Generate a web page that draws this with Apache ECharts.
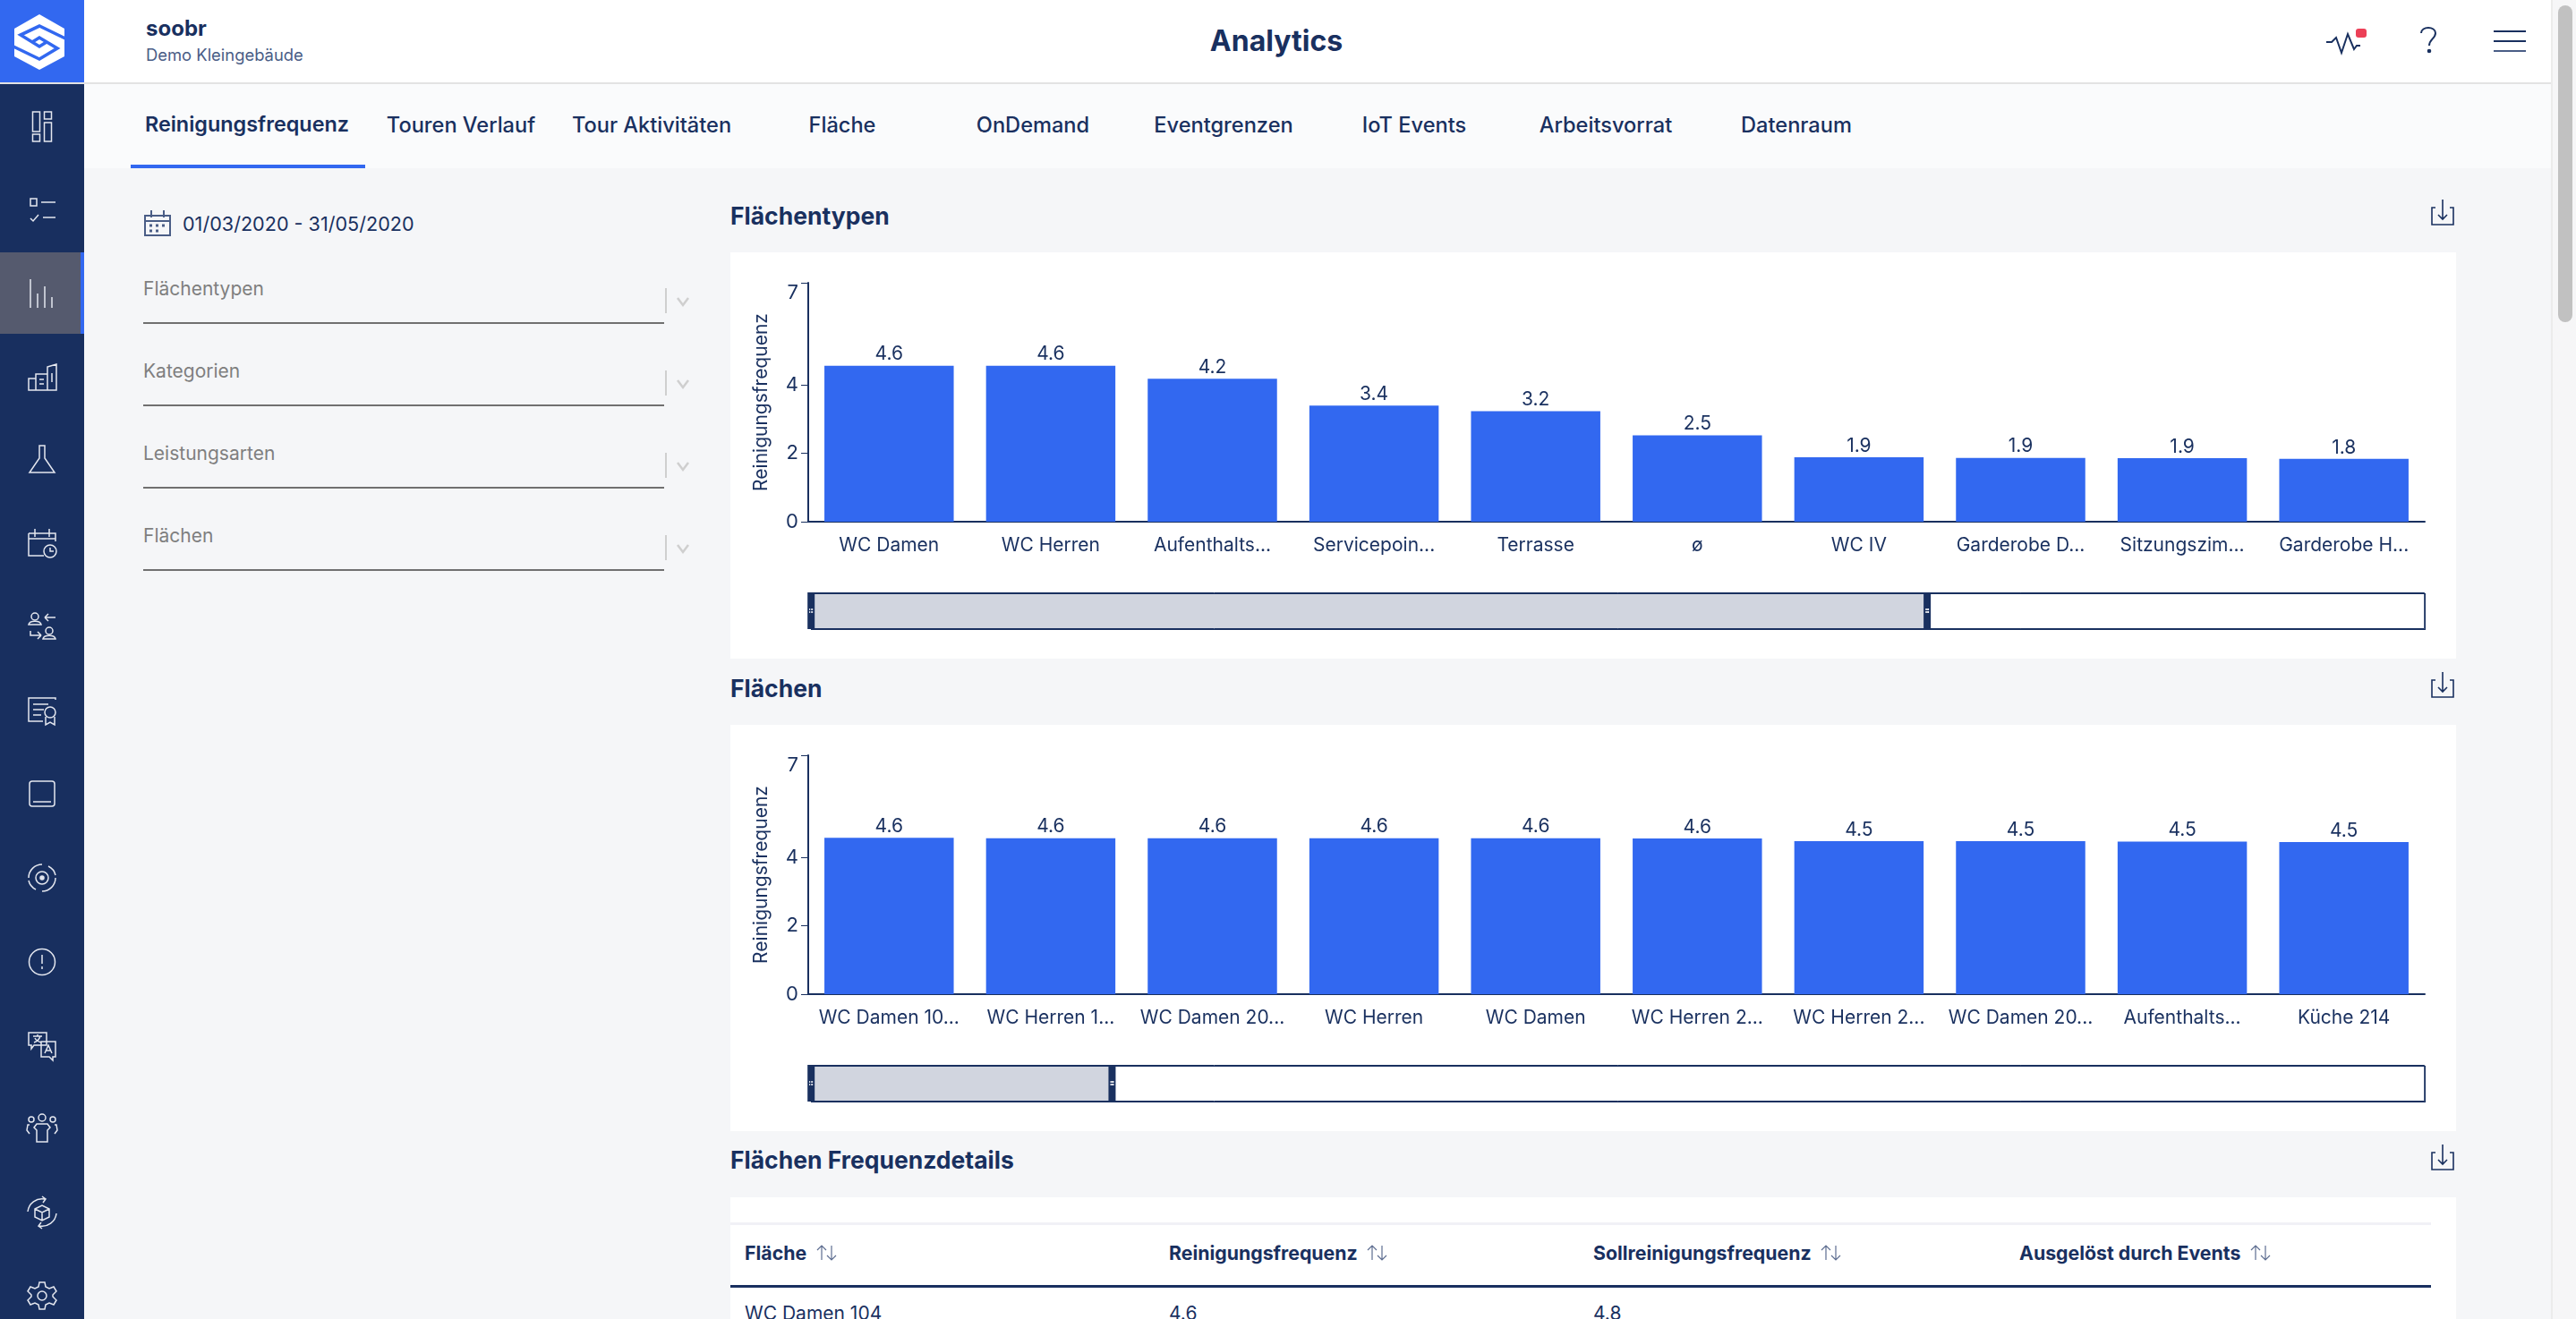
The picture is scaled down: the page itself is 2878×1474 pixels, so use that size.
<!DOCTYPE html>
<html>
<head>
<meta charset="utf-8">
<title>Analytics</title>
<script src="https://cdn.jsdelivr.net/npm/echarts@6/dist/echarts.min.js"></script>
<style>
html, body { margin: 0; padding: 0; width: 2878px; height: 1474px; overflow: hidden; background: #f5f6f8; }
body { font-family: Inter, "Noto Sans", sans-serif; color: #19305f; position: relative; }
.abs, .t { position: absolute; }
.t { white-space: nowrap; line-height: 30px; margin-top: -15px; }
.b { font-weight: 700; }
.tab { font-size: 23.6px; font-weight: 500; transform: translateX(-50%); }
.filter { font-size: 21px; color: #7f7f7f; left: 160px; }
.line { position: absolute; left: 160px; width: 582px; height: 2px; background: #707070; }
.sep { position: absolute; left: 743px; width: 2px; height: 28px; background: #cfcfcf; }
.card { position: absolute; background: #fff; left: 816px; width: 1928px; }
.chart { position: absolute; left: 816px; width: 1928px; height: 454px; }
.title { font-size: 26.5px; font-weight: 700; left: 816px; }
.th { font-size: 21.3px; font-weight: 700; top: 1400px; }
.td { font-size: 21px; top: 1468px; }
.frame { position: absolute; background: #19305f; }
svg { position: absolute; overflow: visible; fill: none; stroke-linecap: butt; }
.nav { left: 25px; width: 44px; height: 44px; stroke: #e4e7ef; stroke-width: 1.5; }
</style>
</head>
<body>

<!-- top bar -->
<div class="abs" style="left:0;top:0;width:2850px;height:92px;background:#fff"></div>
<div class="abs" style="left:94px;top:92px;width:2756px;height:2px;background:#e3e3e3"></div>
<div class="abs" style="left:94px;top:94px;width:2756px;height:94px;background:#fafbfc"></div>

<!-- side bar -->
<div class="abs" style="left:0;top:0;width:94px;height:92px;background:#3268f0"></div>
<div class="abs" style="left:0;top:92px;width:94px;height:2px;background:#e3e3e3"></div>
<div class="abs" style="left:0;top:94px;width:94px;height:1380px;background:#182f5f"></div>
<div class="abs" style="left:0;top:282px;width:90px;height:91px;background:#555a6e"></div>
<div class="abs" style="left:90px;top:282px;width:4px;height:91px;background:#3268f0"></div>

<svg style="left:0;top:0" width="94" height="94" viewBox="0 0 94 94">
  <path d="M44 16 L72 32 V63 L44 78 L16 63 V32 Z" fill="#fff"/>
  <path d="M73 43 L44 29 L23 39 L44 52 L52 47 M15 52 L44 66 L64 54 L44 42 L36 47" stroke="#3268f0" stroke-width="3.6"/>
</svg>

<svg class="nav" style="top:119px" viewBox="0 0 44 44"><path d="M13 8h8v22h-8zM26 8h8v8h-8zM13 33h8v8h-8zM26 20h8v21h-8z" transform="translate(-1.500,-2)"/></svg>
<svg class="nav" style="top:213px" viewBox="0 0 44 44"><path d="M9 9h7v8h-7zM21 13h16M9 31l3 3 6-7M23 30h14"/></svg>
<svg class="nav" style="top:306px" viewBox="0 0 44 44"><path d="M9 6v32M17 22v16M25 14v24M33 26v12"/></svg>
<svg class="nav" style="top:399px" viewBox="0 0 44 44"><path d="M7 24h8v13h-8zM15 19h13v18h-13zM28 11l10-3v29h-10zM19 25h5M19 30h5M33 18v10"/></svg>
<svg class="nav" style="top:491px" viewBox="0 0 44 44"><path d="M19 7h6v14l11 16h-28l11-16z"/></svg>
<svg class="nav" style="top:585px" viewBox="0 0 44 44"><path d="M7 11h30v9M7 11v25h17M14 6v9M30 6v9M7 17h30"/><circle cx="31" cy="31" r="7"/><path d="M31 27v4h4"/></svg>
<svg class="nav" style="top:678px" viewBox="0 0 44 44"><circle cx="14" cy="11" r="4"/><path d="M7 20c1-5 13-5 14 0zM25 12h12M25 12l4-4M25 12l4 4M9 27v5h12M21 32l-4-4M21 32l-4 4"/><circle cx="30" cy="27" r="4"/><path d="M23 36c1-5 13-5 14 0z"/></svg>
<svg class="nav" style="top:772px" viewBox="0 0 44 44"><path d="M37 10v-2h-30v26h16M12 15h17M12 21h12M12 27h9"/><circle cx="31" cy="24" r="6"/><path d="M26 29v9l5-3 5 3v-9"/></svg>
<svg class="nav" style="top:865px" viewBox="0 0 44 44"><rect x="8" y="8" width="28" height="28" rx="3"/><path d="M12 31h20"/></svg>
<svg class="nav" style="top:959px" viewBox="0 0 44 44"><circle cx="22" cy="22" r="7"/><circle cx="22" cy="22" r="2" fill="#e4e7ef"/><path d="M7 22a15 15 0 0 1 15-15M37 22a15 15 0 0 1-15 15M7 25a15 15 0 0 0 8 10M37 19a15 15 0 0 0-8-10"/></svg>
<svg class="nav" style="top:1053px" viewBox="0 0 44 44"><circle cx="22" cy="22" r="14.5"/><path d="M22 14v10M22 27v3"/></svg>
<svg class="nav" style="top:1146px" viewBox="0 0 44 44"><path d="M7 8h20v14h-14l-3 4v-4h-3zM21 18h16v17h-3v4l-4-4h-9z"/><path d="M12 12h10M17 10v2M13 19c3-1 6-4 7-7M14 14c1 2 4 4 7 5M25 31l4-9 4 9M26 28h6"/></svg>
<svg class="nav" style="top:1240px" viewBox="0 0 44 44"><circle cx="22" cy="9" r="4"/><circle cx="10" cy="11" r="3"/><circle cx="34" cy="11" r="3"/><path d="M16 16h12l3 4-3 3v13h-12v-13l-3-3zM8 17h-2l-1 6 3 4M36 17h2l1 6-3 4"/></svg>
<svg class="nav" style="top:1333px" viewBox="0 0 44 44"><path d="M14 18l8-4 8 4v9l-8 4-8-4zM14 18l8 4 8-4M22 22v9M6 21a16 16 0 0 1 19-14M38 23a16 16 0 0 1-19 14M22 4l4 3-3 4M22 40l-4-3 3-4"/></svg>
<svg class="nav" style="top:1426px" viewBox="0 0 44 44"><circle cx="22" cy="22" r="5"/><path d="M19 7h6l1 5 4 2 5-2 3 5-4 4v2l4 4-3 5-5-2-4 2-1 5h-6l-1-5-4-2-5 2-3-5 4-4v-2l-4-4 3-5 5 2 4-2z"/></svg>

<!-- header text -->
<div class="t b" style="left:163px;top:32px;font-size:24px">soobr</div>
<div class="t" style="left:163px;top:61px;font-size:18.4px;color:#4a5d86">Demo Kleingebäude</div>
<div class="t b" style="left:1426px;top:46px;font-size:32px;transform:translateX(-50%)">Analytics</div>

<svg style="left:2598px;top:30px" width="40" height="34" stroke="#19305f" stroke-width="2"><path d="M1 17h6l5-5 6 17 7-21 7 17 3-4h4"/></svg>
<div class="abs" style="left:2632px;top:32px;width:12px;height:10px;border-radius:3px;background:#ec4057"></div>
<svg style="left:2704px;top:30px" width="20" height="32" stroke="#19305f" stroke-width="2"><path d="M1 7c0-8 16-8 16 0 0 6-7 7-7 14"/><circle cx="10" cy="27" r="1.3" fill="#19305f"/></svg>
<svg style="left:2786px;top:33px" width="36" height="26" stroke="#19305f" stroke-width="2"><path d="M0 2h36M0 13h36"/><path d="M0 24h36" stroke="#4a5d86"/></svg>

<!-- scroll bar -->
<div class="abs" style="left:2850px;top:0;width:28px;height:1474px;background:#f6f6f7;border-left:2px solid #ebebeb;box-sizing:border-box"></div>
<div class="abs" style="left:2858px;top:6px;width:16px;height:354px;border-radius:8px;background:#c1c1c1"></div>

<!-- tabs -->
<div class="abs" style="left:146px;top:184px;width:262px;height:4px;background:#3268f0"></div>
<div class="t tab" style="left:276px;top:139px;font-weight:600;font-size:23.4px">Reinigungsfrequenz</div>
<div class="t tab" style="left:515px;top:140px">Touren Verlauf</div>
<div class="t tab" style="left:728px;top:140px">Tour Aktivitäten</div>
<div class="t tab" style="left:941px;top:140px">Fläche</div>
<div class="t tab" style="left:1154px;top:140px">OnDemand</div>
<div class="t tab" style="left:1367px;top:140px">Eventgrenzen</div>
<div class="t tab" style="left:1580px;top:140px">IoT Events</div>
<div class="t tab" style="left:1794px;top:140px">Arbeitsvorrat</div>
<div class="t tab" style="left:2007px;top:140px">Datenraum</div>

<!-- filters -->
<svg style="left:161px;top:235px" width="30" height="29" stroke="#4a5d86" stroke-width="2"><path d="M1 6h28v22h-28zM1 12h28M8 0v8M22 0v8"/><path d="M6 17h3M13 17h3M20 17h3M6 23h3M13 23h3" stroke-width="3"/></svg>
<div class="t" style="left:204px;top:250px;font-size:21.6px">01/03/2020 - 31/05/2020</div>

<div class="t filter" style="top:323px">Flächentypen</div><div class="line" style="top:360px"></div><div class="sep" style="top:322px"></div>
<div class="t filter" style="top:415px">Kategorien</div><div class="line" style="top:452px"></div><div class="sep" style="top:414px"></div>
<div class="t filter" style="top:507px">Leistungsarten</div><div class="line" style="top:544px"></div><div class="sep" style="top:506px"></div>
<div class="t filter" style="top:599px">Flächen</div><div class="line" style="top:636px"></div><div class="sep" style="top:598px"></div>
<svg style="left:756px;top:332px" width="14" height="10" stroke="#cfcfcf" stroke-width="2.5"><path d="M1 1l6 8 6-8"/></svg>
<svg style="left:756px;top:424px" width="14" height="10" stroke="#cfcfcf" stroke-width="2.5"><path d="M1 1l6 8 6-8"/></svg>
<svg style="left:756px;top:516px" width="14" height="10" stroke="#cfcfcf" stroke-width="2.5"><path d="M1 1l6 8 6-8"/></svg>
<svg style="left:756px;top:608px" width="14" height="10" stroke="#cfcfcf" stroke-width="2.5"><path d="M1 1l6 8 6-8"/></svg>

<!-- sections -->
<div class="t title" style="top:241px">Flächentypen</div>
<div class="t title" style="top:769px">Flächen</div>
<div class="t title" style="top:1296px">Flächen Frequenzdetails</div>

<svg style="left:2716px;top:223px" width="26" height="30" stroke="#19305f" stroke-width="1.6"><path d="M5 9h-4v19h24v-19h-4M13 0v22M8 17l5 5 5-5"/></svg>
<svg style="left:2716px;top:751px" width="26" height="30" stroke="#19305f" stroke-width="1.6"><path d="M5 9h-4v19h24v-19h-4M13 0v22M8 17l5 5 5-5"/></svg>
<svg style="left:2716px;top:1279px" width="26" height="30" stroke="#19305f" stroke-width="1.6"><path d="M5 9h-4v19h24v-19h-4M13 0v22M8 17l5 5 5-5"/></svg>

<div class="card" style="top:282px;height:454px"></div>
<div class="card" style="top:810px;height:454px"></div>
<div id="chartTypen" class="chart" style="top:282px"></div>
<div id="chartFlaechen" class="chart" style="top:810px"></div>

<!-- slider frame is 1px in the library, thicken it -->
<div class="frame" style="left:906px;top:663px;width:1804px;height:1px"></div>
<div class="frame" style="left:906px;top:703px;width:1804px;height:1px"></div>
<div class="frame" style="left:2709px;top:663px;width:1px;height:41px"></div>
<div class="frame" style="left:906px;top:1191px;width:1804px;height:1px"></div>
<div class="frame" style="left:906px;top:1231px;width:1804px;height:1px"></div>
<div class="frame" style="left:2709px;top:1191px;width:1px;height:41px"></div>

<!-- details table -->
<div class="card" style="top:1338px;height:136px"></div>
<div class="abs" style="left:816px;top:1366px;width:1900px;height:3px;background:#f1f1f6"></div>
<div class="abs" style="left:816px;top:1436px;width:1900px;height:3px;background:#19305f"></div>
<div class="t th" style="left:832px">Fläche</div>
<div class="t th" style="left:1306px">Reinigungsfrequenz</div>
<div class="t th" style="left:1780px">Sollreinigungsfrequenz</div>
<div class="t th" style="left:2256px">Ausgelöst durch Events</div>
<svg style="left:911px;top:1391px" width="26" height="18" stroke="#5d6d90" stroke-width="1.2"><path d="M7 17v-16M2 6l5-5 5 5M18 1v16M13 12l5 5 5-5"/></svg>
<svg style="left:1526px;top:1391px" width="26" height="18" stroke="#5d6d90" stroke-width="1.2"><path d="M7 17v-16M2 6l5-5 5 5M18 1v16M13 12l5 5 5-5"/></svg>
<svg style="left:2033px;top:1391px" width="26" height="18" stroke="#5d6d90" stroke-width="1.2"><path d="M7 17v-16M2 6l5-5 5 5M18 1v16M13 12l5 5 5-5"/></svg>
<svg style="left:2513px;top:1391px" width="26" height="18" stroke="#5d6d90" stroke-width="1.2"><path d="M7 17v-16M2 6l5-5 5 5M18 1v16M13 12l5 5 5-5"/></svg>
<div class="t td" style="left:832px">WC Damen 104</div>
<div class="t td" style="left:1306px">4.6</div>
<div class="t td" style="left:1780px">4.8</div>

<script>
var typenCategories = ['WC Damen', 'WC Herren', 'Aufenthalts...', 'Servicepoin...', 'Terrasse', 'ø', 'WC IV', 'Garderobe D...', 'Sitzungszim...', 'Garderobe H...'];
var typenValues = [4.57, 4.57, 4.19, 3.40, 3.24, 2.53, 1.89, 1.87, 1.86, 1.84];
var typenTotal = 14; // the slider says 14 categories, only the first 10 can be read

var flaechenCategories = ['WC Damen 10...', 'WC Herren 1...', 'WC Damen 20...', 'WC Herren', 'WC Damen', 'WC Herren 2...', 'WC Herren 2...', 'WC Damen 20...', 'Aufenthalts...', 'Küche 214'];
var flaechenValues = [4.58, 4.57, 4.57, 4.57, 4.57, 4.56, 4.48, 4.48, 4.47, 4.46];
var flaechenTotal = 49;

var yTicks = [0, 2, 4, 7];
var yMax = 7;
var navy = '#19305f';
var blue = '#3268f0';
var font = 'Inter';

function withHidden(categories, total) {
    var list = categories.slice();
    while (list.length < total) {
        list.push('');
    }
    return list;
}

function drawBars(el, categories, values, total) {
    var myChart = echarts.init(el);
    myChart.setOption({
        animation: false,
        textStyle: { fontFamily: font },
        grid: { left: 87, top: 34, width: 1806, height: 267 },
        xAxis: [{
            type: 'category',
            data: withHidden(categories, total),
            axisLine: { lineStyle: { color: navy, width: 2 } },
            axisTick: { alignWithLabel: true, length: 9, lineStyle: { color: navy, width: 1 } },
            axisLabel: { interval: 0, margin: 16, color: navy, fontSize: 21, fontFamily: font, hideOverlap: false }
        }],
        yAxis: [{
            type: 'value',
            min: 0,
            max: yMax,
            name: 'Reinigungsfrequenz',
            nameLocation: 'middle',
            nameGap: 42,
            nameTextStyle: { color: navy, fontSize: 21, fontFamily: font },
            axisLine: { show: true, lineStyle: { color: navy, width: 2 } },
            axisTick: { show: true, length: 8, customValues: yTicks, lineStyle: { color: navy, width: 1 } },
            axisLabel: { margin: 11, color: navy, fontSize: 22, fontFamily: font, customValues: yTicks, verticalAlignMaxLabel: 'top' },
            splitLine: { show: false }
        }],
        dataZoom: [{
            type: 'slider',
            xAxisIndex: 0,
            startValue: 0,
            endValue: categories.length - 1,
            left: 89,
            top: 380,
            width: 1804,
            height: 41,
            showDetail: false,
            showDataShadow: false,
            brushSelect: false,
            borderColor: navy,
            borderRadius: 0,
            backgroundColor: '#fff',
            fillerColor: '#d1d5df',
            moveHandleSize: 0,
            handleIcon: 'path://M0,0 H8 V41 H0 Z M2,18 V20 H6 V18 Z M2,21 V23 H6 V21 Z',
            handleSize: '100%',
            handleStyle: { color: navy, borderColor: navy, borderWidth: 0 }
        }],
        series: [{
            type: 'bar',
            barCategoryGap: '20%',
            itemStyle: { color: blue },
            label: {
                show: true,
                position: 'top',
                distance: 2,
                color: navy,
                fontSize: 21,
                fontFamily: font,
                formatter: function (p) { return p.value.toFixed(1); }
            },
            data: values
        }]
    });
}

drawBars(document.getElementById('chartTypen'), typenCategories, typenValues, typenTotal);
drawBars(document.getElementById('chartFlaechen'), flaechenCategories, flaechenValues, flaechenTotal);
</script>
</body>
</html>
